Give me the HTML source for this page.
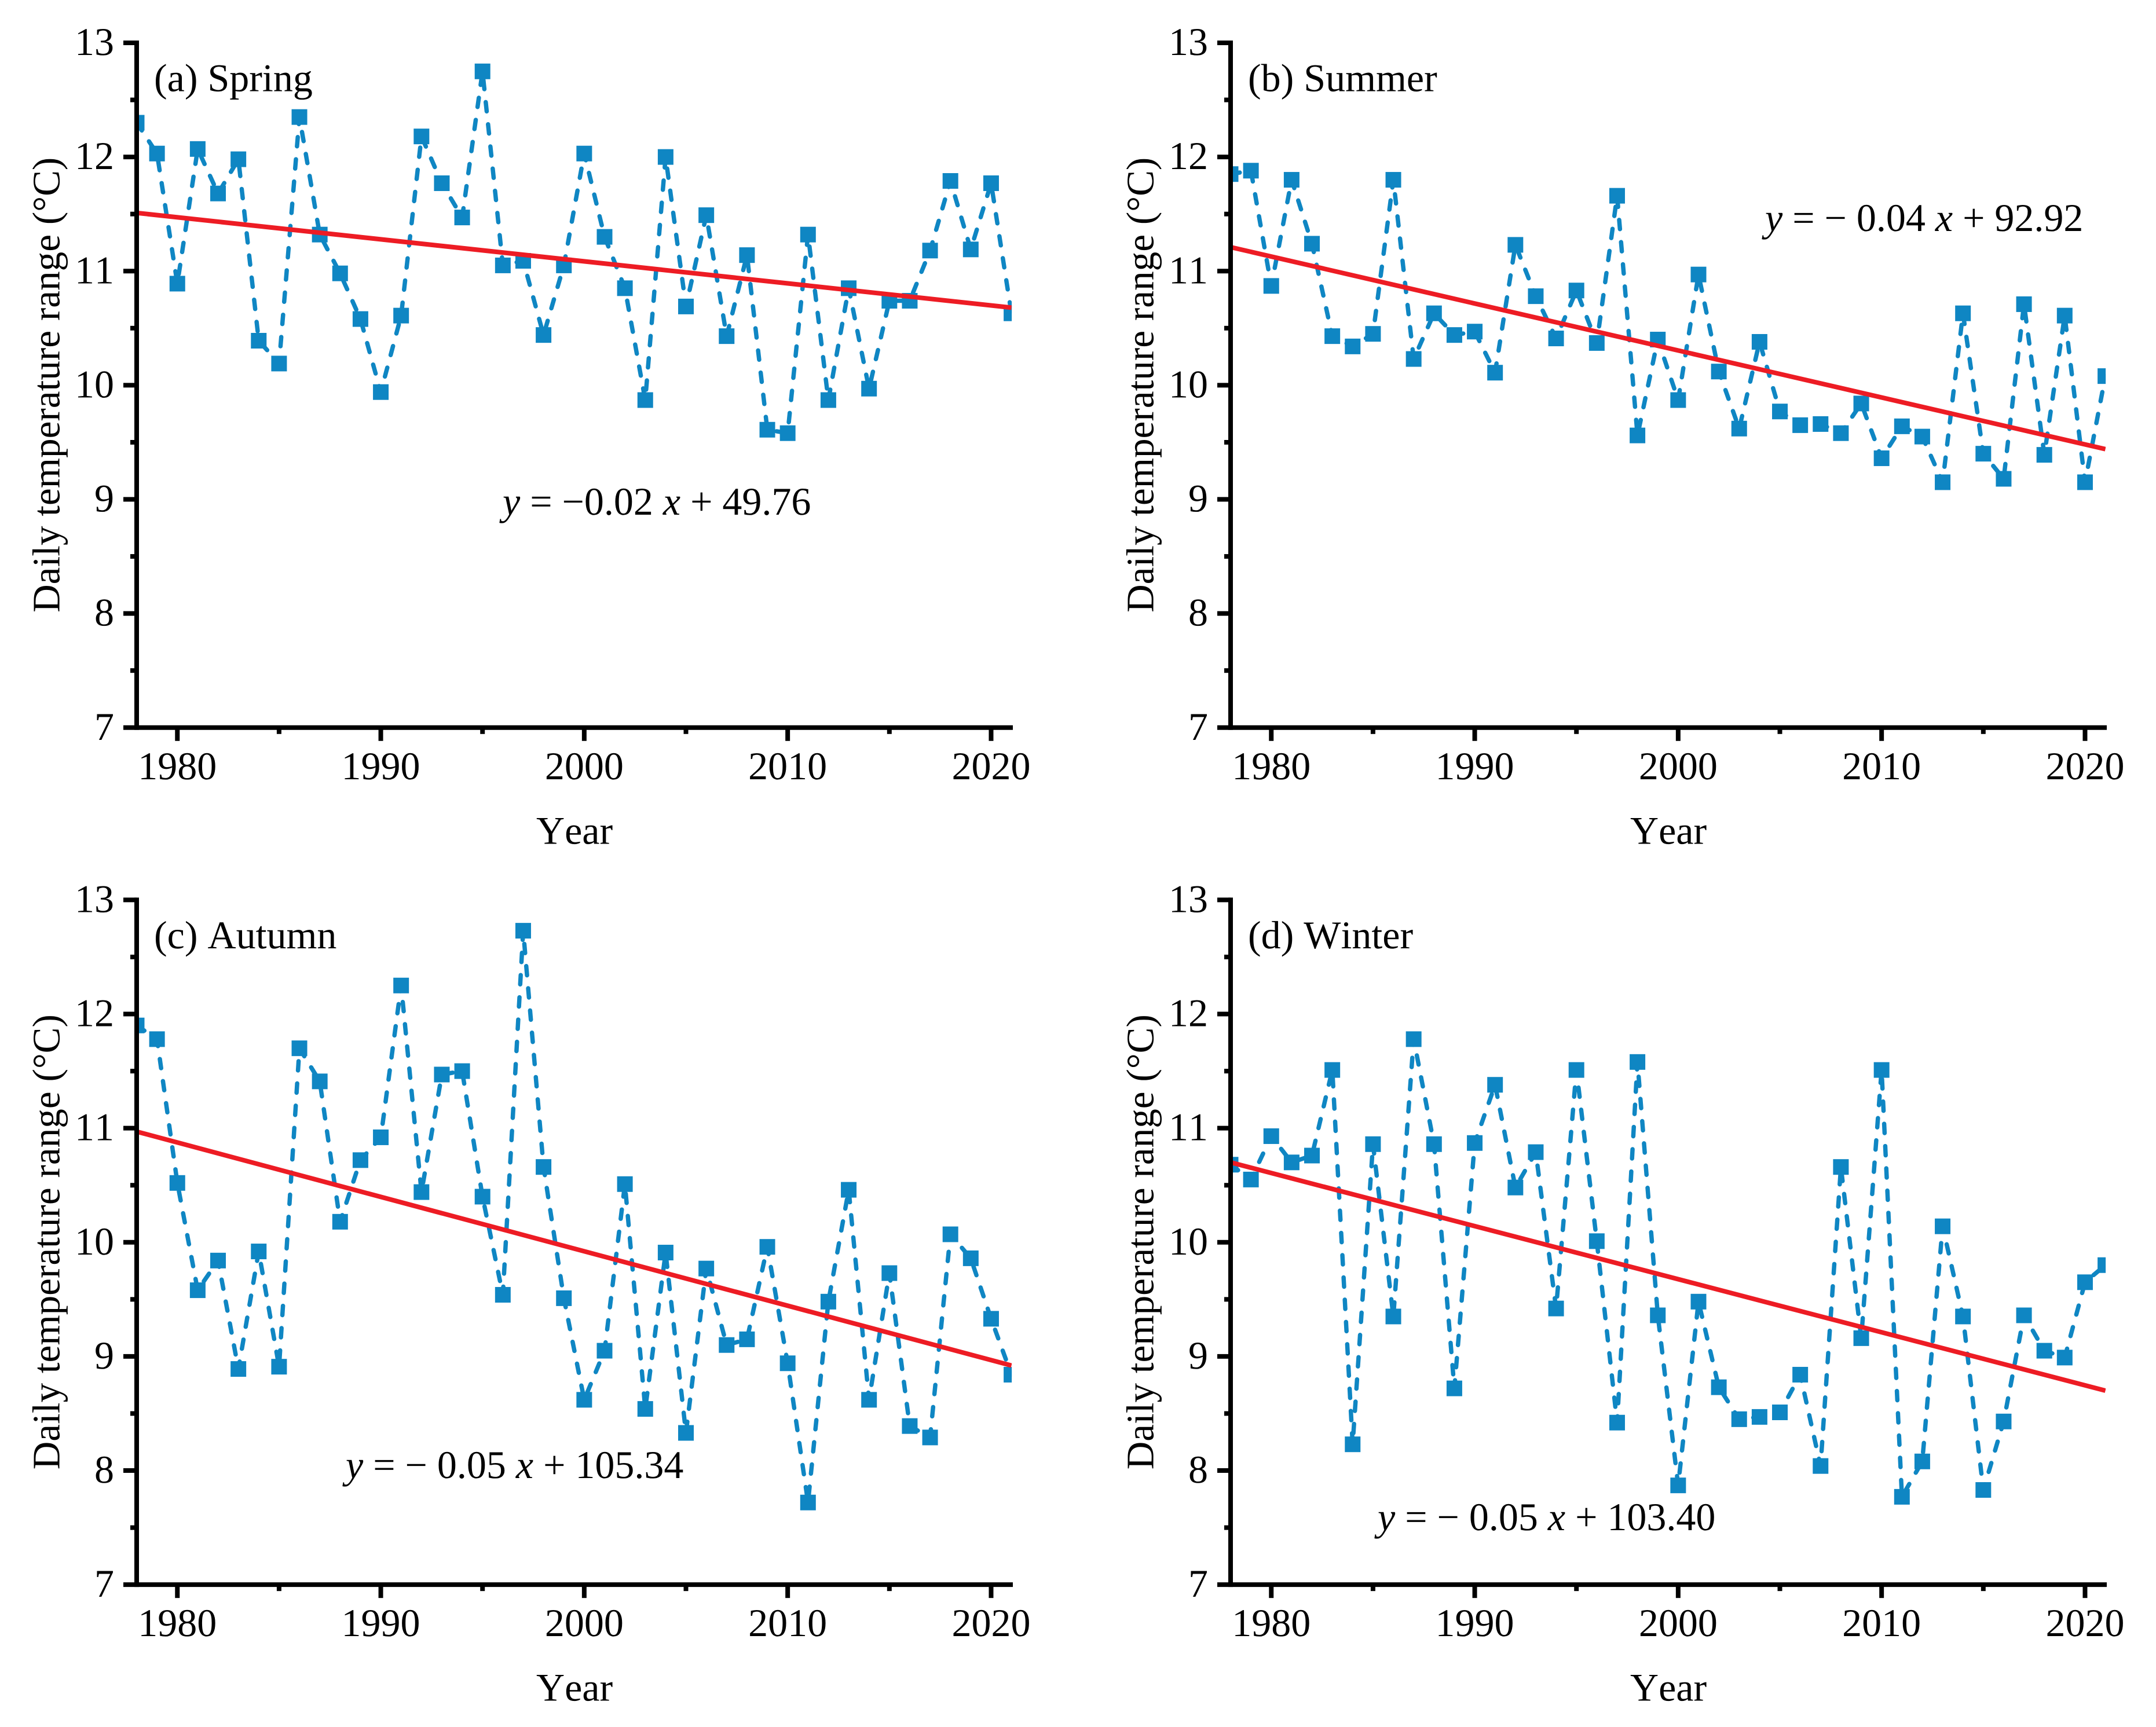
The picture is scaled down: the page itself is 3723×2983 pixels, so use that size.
<!DOCTYPE html>
<html lang="en">
<head>
<meta charset="utf-8">
<title>Daily temperature range by season, 1978–2021</title>
<style>
html,body{margin:0;padding:0;background:#fff;}
svg{display:block;}
text{font-family:"Liberation Serif","Times New Roman",serif;fill:#000;white-space:pre;font-kerning:none;text-rendering:geometricPrecision;}
</style>
</head>
<body>
<svg id="chart" xmlns="http://www.w3.org/2000/svg" width="3723" height="2983" viewBox="0 0 3723 2983"></svg>
<script>
const years = [1978,1979,1980,1981,1982,1983,1984,1985,1986,1987,1988,1989,1990,1991,1992,1993,1994,1995,1996,1997,1998,1999,2000,2001,2002,2003,2004,2005,2006,2007,2008,2009,2010,2011,2012,2013,2014,2015,2016,2017,2018,2019,2020,2021];
const springValues = [12.30,12.03,10.89,12.07,11.68,11.98,10.39,10.19,12.35,11.32,10.98,10.58,9.94,10.61,12.18,11.77,11.47,12.75,11.05,11.09,10.44,11.05,12.03,11.30,10.85,9.87,12.00,10.69,11.49,10.43,11.14,9.61,9.58,11.32,9.87,10.85,9.97,10.74,10.74,11.18,11.79,11.19,11.77,10.63];
const summerValues = [11.85,11.88,10.87,11.80,11.24,10.43,10.34,10.45,11.80,10.23,10.63,10.44,10.47,10.11,11.23,10.78,10.41,10.83,10.37,11.66,9.56,10.40,9.87,10.97,10.12,9.62,10.38,9.77,9.65,9.66,9.58,9.84,9.36,9.64,9.55,9.15,10.63,9.40,9.18,10.71,9.39,10.61,9.15,10.08];
const autumnValues = [11.90,11.78,10.52,9.58,9.84,8.89,9.92,8.91,11.70,11.41,10.18,10.72,10.92,12.25,10.44,11.47,11.50,10.40,9.54,12.73,10.66,9.51,8.62,9.05,10.51,8.54,9.91,8.33,9.77,9.10,9.15,9.96,8.94,7.72,9.48,10.46,8.62,9.73,8.39,8.29,10.07,9.86,9.33,8.84];
const winterValues = [10.68,10.55,10.93,10.70,10.76,11.51,8.23,10.86,9.35,11.78,10.86,8.72,10.87,11.38,10.48,10.79,9.42,11.51,10.01,8.42,11.58,9.36,7.87,9.48,8.73,8.45,8.47,8.51,8.84,8.04,10.66,9.16,11.51,7.77,8.08,10.14,9.35,7.83,8.43,9.36,9.05,8.99,9.65,9.80];
const springTrend = [11.51,10.68];
const summerTrend = [11.21,9.44];
const autumnTrend = [10.97,8.92];
const winterTrend = [10.70,8.70];
const xMajorTicks = [1980,1990,2000,2010,2020];
const xMinorTicks = [1985,1995,2005,2015];
const yMajorTicks = [7,8,9,10,11,12,13];
const yMinorTicks = [7.5,8.5,9.5,10.5,11.5,12.5];
const xAxisTitle = "Year";
const yAxisTitle = "Daily temperature range (°C)";
const panelTitles = ["(a) Spring","(b) Summer","(c) Autumn","(d) Winter"];
const panelKeys = ["spring","summer","autumn","winter"];
const equationSpring = [["y",1],[" = −0.02 ",0],["x",1],[" + 49.76",0]];
const equationSummer = [["y",1],[" = − 0.04 ",0],["x",1],[" + 92.92",0]];
const equationAutumn = [["y",1],[" = − 0.05 ",0],["x",1],[" + 105.34",0]];
const equationWinter = [["y",1],[" = − 0.05 ",0],["x",1],[" + 103.40",0]];

const NS = "http://www.w3.org/2000/svg";
const root = document.getElementById("chart");
const BLUE = "#0f86c3";
const RED = "#ed1c24";
const FONT = 68;

function make(tag, attrs, parent) {
  const el = document.createElementNS(NS, tag);
  for (const k in attrs) el.setAttribute(k, attrs[k]);
  parent.appendChild(el);
  return el;
}

function drawPanel(index, left, top, values, trend, equation, eqX, eqY) {
  const key = panelKeys[index];
  const xScale = function (v) { return left + (v - 1978) * 35.13; };
  const yScale = function (v) { return top + (13 - v) * 197.13; };
  const plotRight = xScale(2021) + 0.5;
  const axisY = yScale(7);

  const g = make("g", {}, root);
  
  

  const clip = make("clipPath", { id: "clip-" + key }, g);
  make("rect", { x: left, y: top - 20, width: plotRight - left, height: axisY - top + 20 }, clip);

  const plot = make("g", { "clip-path": "url(#clip-" + key + ")" }, g);
  
  

  const points = values.map(function (v, i) { return xScale(years[i]) + "," + yScale(v); }).join(" ");
  const line = make("polyline", { points: points, fill: "none", stroke: BLUE, "stroke-width": 7.5, "stroke-dasharray": "16 22.5", "stroke-linecap": "round", "stroke-linejoin": "round" }, plot);
  
  

  values.forEach(function (v, i) {
    const m = make("rect", { x: xScale(years[i]) - 13.5, y: yScale(v) - 13.5, width: 27, height: 27, fill: BLUE }, plot);
    
    
  });

  const trendLine = make("line", { x1: xScale(1978), y1: yScale(trend[0]), x2: xScale(2021), y2: yScale(trend[1]), stroke: RED, "stroke-width": 8 }, plot);
  
  

  const yAxisLine = make("line", { x1: left, y1: top - 4, x2: left, y2: axisY + 4, stroke: "#000", "stroke-width": 8 }, g);
  
  

  const xAxisLine = make("line", { x1: left, y1: axisY, x2: left + 1513, y2: axisY, stroke: "#000", "stroke-width": 8 }, g);
  
  

  yMajorTicks.forEach(function (v) {
    const t = make("line", { x1: left - 23, y1: yScale(v), x2: left, y2: yScale(v), stroke: "#000", "stroke-width": 8 }, g);
    
    
    const l = make("text", { x: left - 39, y: yScale(v) + 21, "font-size": FONT, "text-anchor": "end" }, g);
    l.textContent = v;
    
    
  });
  yMinorTicks.forEach(function (v) {
    const t = make("line", { x1: left - 11, y1: yScale(v), x2: left, y2: yScale(v), stroke: "#000", "stroke-width": 8 }, g);
    
    
  });
  xMajorTicks.forEach(function (v) {
    const t = make("line", { x1: xScale(v), y1: axisY, x2: xScale(v), y2: axisY + 23, stroke: "#000", "stroke-width": 8 }, g);
    
    
    const l = make("text", { x: xScale(v), y: axisY + 89, "font-size": FONT, "text-anchor": "middle" }, g);
    l.textContent = v;
    
    
  });
  xMinorTicks.forEach(function (v) {
    const t = make("line", { x1: xScale(v), y1: axisY, x2: xScale(v), y2: axisY + 11, stroke: "#000", "stroke-width": 8 }, g);
    
    
  });

  const xt = make("text", { x: left + 690, y: axisY + 200.5, "font-size": FONT }, g);
  xt.textContent = xAxisTitle;
  
  

  const ytX = left - 133.3;
  const ytY = (top + axisY) / 2 - 0.6;
  const yt = make("text", { x: ytX, y: ytY, "font-size": 67.2, "text-anchor": "middle", transform: "rotate(-90 " + ytX + " " + ytY + ")" }, g);
  yt.textContent = yAxisTitle;
  
  

  const title = make("text", { x: left + 30, y: top + 83.5, "font-size": FONT }, g);
  title.textContent = panelTitles[index];
  
  

  const eq = make("text", { x: eqX, y: eqY, "font-size": FONT }, g);
  
  
  equation.forEach(function (part) {
    const s = make("tspan", part[1] ? { "font-style": "italic" } : {}, eq);
    s.textContent = part[0];
  });
}

drawPanel(0, 236, 74, springValues, springTrend, equationSpring, 868, 889);
drawPanel(1, 2125, 74, summerValues, summerTrend, equationSummer, 3048, 399);
drawPanel(2, 236, 1554.4, autumnValues, autumnTrend, equationAutumn, 597, 2553);
drawPanel(3, 2125, 1554.4, winterValues, winterTrend, equationWinter, 2379, 2643);
</script>
</body>
</html>
